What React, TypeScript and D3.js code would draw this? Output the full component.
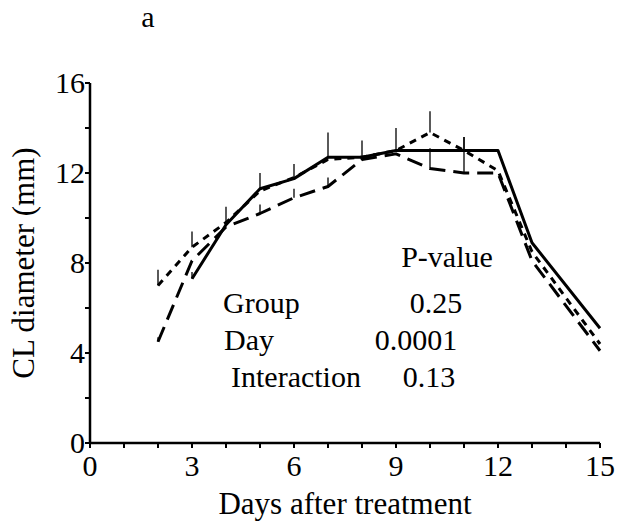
import React from "react";
import * as d3 from "d3";

const W = 617;
const H = 525;

// Series: solid, short-dashed and long-dashed groups
const solidDays = [3, 4, 5, 6, 7, 8, 9, 10, 11, 12, 13, 15];
const solidMean = [7.3, 9.7, 11.3, 11.75, 12.7, 12.7, 13.0, 13.0, 13.0, 13.0, 8.9, 5.1];
const solidErr = [0.3, 0.8, 0.7, 0.65, 1.1, 0.75, 1.0, 0.0, 0.6, 0.0, 0.0, 0.0];

const dottedDays = [2, 3, 4, 5, 6, 7, 8, 9, 10, 11, 12, 13, 15];
const dottedMean = [7.0, 8.7, 9.8, 11.2, 11.8, 12.6, 12.7, 13.0, 13.8, 13.0, 12.1, 8.5, 4.4];
const dottedErr = [0.7, 0.7, 0.0, 0.0, 0.0, 0.0, 0.0, 0.0, 0.95, 0.0, 0.0, 0.0, 0.0];

const dashedDays = [2, 3, 4, 5, 6, 7, 8, 9, 10, 11, 12, 13, 15];
const dashedMean = [4.5, 8.1, 9.6, 10.2, 10.9, 11.4, 12.6, 12.85, 12.2, 12.0, 12.0, 8.1, 4.1];
const dashedErr = [0.2, 0.0, 0.0, 0.4, 0.4, 0.4, 0.0, 0.0, 0.9, 1.6, 0.0, 0.0, 0.0];

const xTickLabels = [0, 3, 6, 9, 12, 15];
const yTickLabels = [0, 4, 8, 12, 16];

const statRows = ["Group", "Day", "Interaction"];
const statValues = ["0.25", "0.0001", "0.13"];

const FONT = '"Liberation Serif", "Times New Roman", Times, "DejaVu Serif", serif';

export default function App() {
  const x = d3.scaleLinear().domain([0, 15]).range([90, 600]);
  const y = d3.scaleLinear().domain([0, 16]).range([443, 83]);

  const mk = (days: number[], means: number[]) =>
    d3
      .line<number>()
      .x((_, i) => x(days[i]))
      .y((v) => y(v))(means) || "";

  const series = [
    { days: solidDays, mean: solidMean, err: solidErr, dash: "none" },
    { days: dottedDays, mean: dottedMean, err: dottedErr, dash: "7,6" },
    { days: dashedDays, mean: dashedMean, err: dashedErr, dash: "16,8" },
  ];

  const xMinor = d3.range(0, 16, 1);
  const yMinor = d3.range(0, 17, 2);
  const ts: React.CSSProperties = { fontFamily: FONT };

  return (
    <svg
      width={W}
      height={H}
      style={{ position: "absolute", left: 0, top: 0, background: "#fff", fontFamily: FONT }}
    >
      <rect width={W} height={H} fill="#fff" />
      <text x={148} y={27} fontSize={30} textAnchor="middle" style={ts}>a</text>

      {/* axes */}
      <line x1={x(0)} x2={x(15)} y1={y(0)} y2={y(0)} stroke="#000" strokeWidth={2.5} />
      <line x1={x(0)} x2={x(0)} y1={y(0)} y2={y(16)} stroke="#000" strokeWidth={2.5} />
      {xMinor.map((d) => (
        <line key={"xt" + d} x1={x(d)} x2={x(d)} y1={y(0)} y2={y(0) + 5} stroke="#000" strokeWidth={2} />
      ))}
      {yMinor.map((d) => (
        <line key={"yt" + d} x1={x(0) - 5} x2={x(0)} y1={y(d)} y2={y(d)} stroke="#000" strokeWidth={2} />
      ))}
      {xTickLabels.map((d) => (
        <text key={"xl" + d} x={x(d)} y={y(0) + 33} fontSize={30} textAnchor="middle" style={ts}>
          {d}
        </text>
      ))}
      {yTickLabels.map((d) => (
        <text key={"yl" + d} x={x(0) - 5} y={y(d) + 10} fontSize={30} textAnchor="end" style={ts}>
          {d}
        </text>
      ))}
      <text x={(x(0) + x(15)) / 2} y={514} fontSize={31} textAnchor="middle" style={ts}>
        Days after treatment
      </text>
      <text
        transform={`translate(34, ${(y(0) + y(16)) / 2}) rotate(-90)`}
        fontSize={31}
        textAnchor="middle"
        style={ts}
      >
        CL diameter (mm)
      </text>

      {/* error bars */}
      {series.map((s, si) =>
        s.days.map((d, i) =>
          s.err[i] > 0 ? (
            <line
              key={`e${si}-${i}`}
              x1={x(d)}
              x2={x(d)}
              y1={y(s.mean[i])}
              y2={y(s.mean[i] + s.err[i])}
              stroke="#000"
              strokeWidth={1.3}
            />
          ) : null
        )
      )}

      {/* lines */}
      {series.map((s, si) => (
        <path
          key={"l" + si}
          d={mk(s.days, s.mean)}
          fill="none"
          stroke="#000"
          strokeWidth={3}
          strokeDasharray={s.dash}
          strokeLinejoin="round"
        />
      ))}

      {/* stats table */}
      <text x={447} y={267} fontSize={30} textAnchor="middle" style={ts}>P-value</text>
      {statRows.map((r, i) => (
        <text key={"sr" + i} x={[223, 224, 231][i]} y={[313, 350, 387][i]} fontSize={30} style={ts}>
          {r}
        </text>
      ))}
      {statValues.map((v, i) => (
        <text key={"sv" + i} x={[436, 416, 429][i]} y={[313, 350, 387][i]} fontSize={30} textAnchor="middle" style={ts}>
          {v}
        </text>
      ))}
    </svg>
  );
}
